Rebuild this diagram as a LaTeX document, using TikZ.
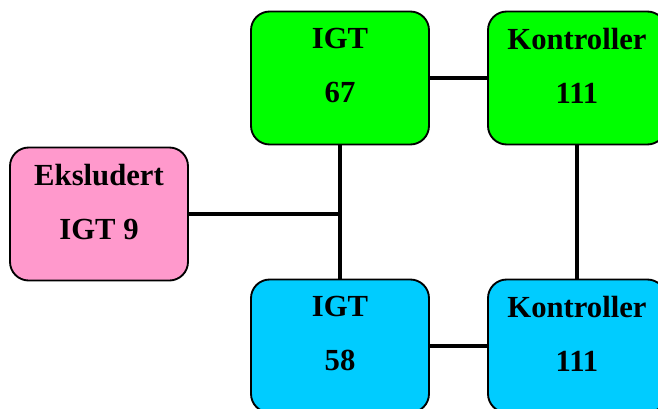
\documentclass[tikz,border=0pt]{standalone}
\usepackage{fontspec}
\setmainfont{Liberation Serif}
\usepackage{xcolor}
\usepackage{tikz}
\definecolor{IGGreen}{HTML}{00FF00}
\definecolor{IGPink}{HTML}{FF99CC}
\definecolor{IGCyan}{HTML}{00CCFF}

\begin{document}
\begin{tikzpicture}[x=0.75pt,y=-0.75pt,
  unitbox/.style={draw=black,line width=1.4pt,rounded corners=14pt,
    minimum width=133.5pt,minimum height=99.75pt,inner sep=0pt,
    align=center,text depth=18.75pt,
    font=\bfseries\fontsize{23}{40.5}\selectfont},
  wire/.style={line width=3.6pt}]
\path[use as bounding box] (0,0) rectangle (658,408);
\clip (0,0) rectangle (658,408);
\node[unitbox,fill=IGGreen] (igtA) at (340,78) {IGT\\67};
\node[unitbox,fill=IGGreen] (ktrA) at (577,78) {Kontroller\\111};
\node[unitbox,fill=IGPink] (eks) at (99,214) {Eksludert\\IGT 9};
\node[unitbox,fill=IGCyan] (igtB) at (340,346) {IGT\\58};
\node[unitbox,fill=IGCyan] (ktrB) at (577,346) {Kontroller\\111};
\coordinate (tap) at (340,214);
\draw[wire] (igtA.east) -- (ktrA.west);
\draw[wire] (ktrA.south) -- (ktrB.north);
\draw[wire] (igtA.south) -- (igtB.north);
\draw[wire] (igtB.east) -- (ktrB.west);
\draw[wire] (eks.east) -- (tap);
\end{tikzpicture}
\end{document}
